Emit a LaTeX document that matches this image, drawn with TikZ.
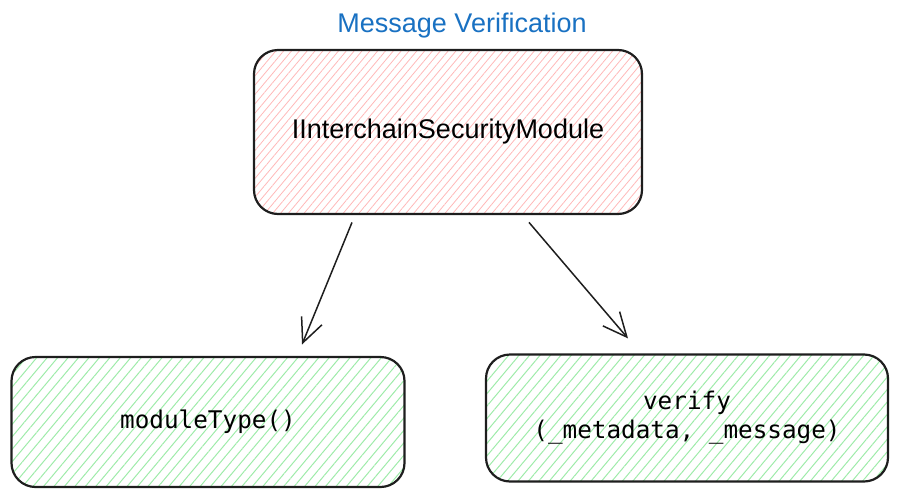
\documentclass[tikz,border=0pt]{standalone}
\usepackage{fontspec}
\setmainfont{Liberation Sans}
\setmonofont{DejaVu Sans Mono}
\usepackage{xcolor}
\usepackage{tikz}
\usetikzlibrary{positioning, arrows.meta, patterns.meta}

\definecolor{inkblack}{HTML}{1E1E1E}
\definecolor{titleblue}{HTML}{1971C2}
\definecolor{hatchred}{HTML}{FFB8B8}
\definecolor{hatchgreen}{HTML}{9EEBA9}

\begin{document}
\begin{tikzpicture}[
    x=1pt, y=-1pt,
    box/.style={draw=inkblack, line width=2.2pt, rectangle, rounded corners=24pt, align=center, inner sep=0pt},
    iface/.style={box, minimum width=388pt, minimum height=164pt, font=\fontsize{27}{32}\selectfont,
        pattern={Lines[angle=50, distance=6pt, line width=0.8pt]}, pattern color=hatchred},
    func/.style={box, minimum width=393pt, minimum height=130pt, font=\ttfamily\fontsize{24.3}{29}\selectfont,
        pattern={Lines[angle=50, distance=8pt, line width=1pt]}, pattern color=hatchgreen},
    arrow/.style={-{Straight Barb[length=24pt, width=22pt, line width=1.5pt]}, line width=1.5pt, inkblack},
    title/.style={font=\fontsize{27}{30}\selectfont, text=titleblue}
]
\useasboundingbox (0,0) rectangle (900,501);

% Top: interface
\node[title] (title) at (462,26) {Message Verification};
\node[iface] (ism) at (448,132) {IInterchainSecurityModule};

% Bottom: functions
\node[func] (mtype) at (208,422) {moduleType()};
\node[func, minimum width=402pt, minimum height=127pt] (verify) at (687,418) {verify\\(\_metadata, \_message)};

\draw[arrow] ([xshift=-96pt, yshift=-8pt]ism.south) -- ([xshift=94pt, yshift=12pt]mtype.north);
\draw[arrow] ([xshift=81pt, yshift=-8pt]ism.south) -- ([xshift=-59pt, yshift=15pt]verify.north);

\end{tikzpicture}
\end{document}
